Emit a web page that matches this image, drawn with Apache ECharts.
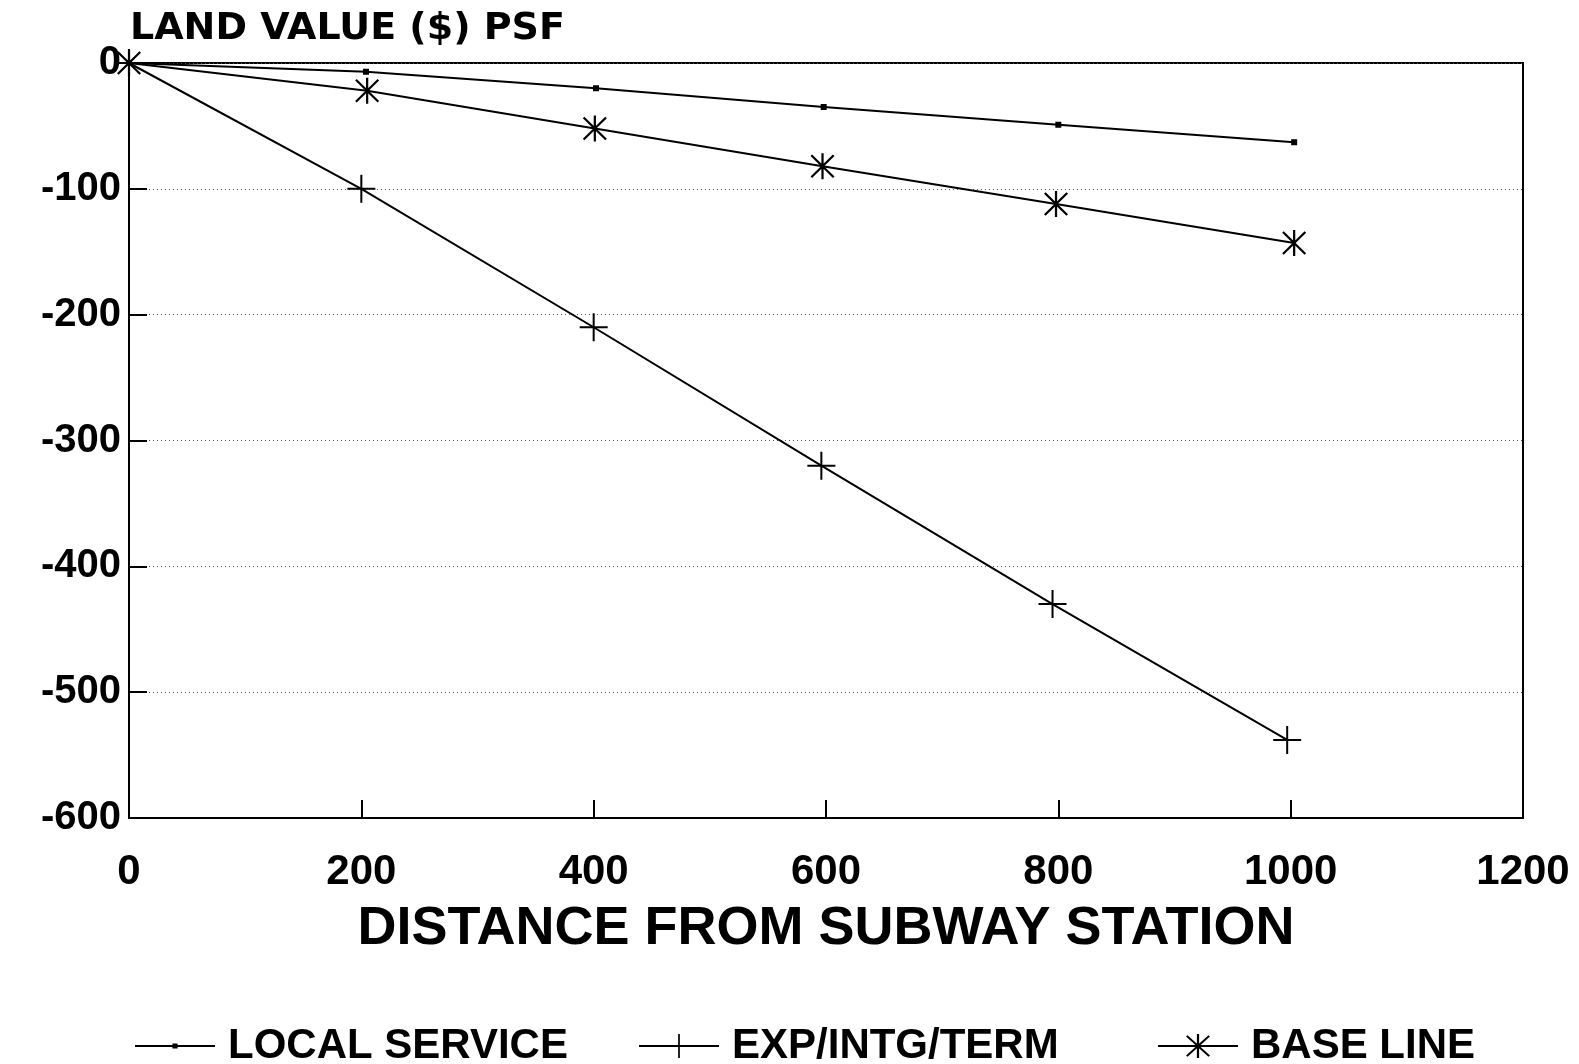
<!DOCTYPE html>
<html>
<head>
<meta charset="utf-8">
<script src="https://cdn.jsdelivr.net/npm/echarts@6/dist/echarts.min.js"></script>
<style>
html,body{margin:0;padding:0;background:#fff;}
#chart{width:1579px;height:1064px;}
</style>
</head>
<body>
<div id="chart"></div>
<script>
// ---- data ----
const seriesNames = ['LOCAL SERVICE', 'EXP/INTG/TERM', 'BASE LINE'];
const distLocal = [0, 204, 402, 598, 800, 1003];
const valLocal  = [0, -7, -20, -35, -49, -63];
const distExp   = [0, 200, 400, 596, 795, 997];
const valExp    = [0, -100, -210, -320, -430, -538];
const distBase  = [0, 205, 401, 597, 798, 1003];
const valBase   = [0, -22, -52, -82, -112, -143];
const yTicks = [0, -100, -200, -300, -400, -500, -600];
const xTicks = [0, 200, 400, 600, 800, 1000, 1200];
const yTitle = 'LAND VALUE ($) PSF';
const xTitle = 'DISTANCE FROM SUBWAY STATION';

const pair = (xs, ys) => xs.map((x, i) => [x, ys[i]]);

// marker shapes (filled outlines, same winding)
const SYM_DOT = 'path://M-14,-14 L-14,-14 Z M14,14 L14,14 Z M-3,-3 L3,-3 L3,3 L-3,3 Z';
const SYM_PLUS = 'path://M-1,-14 L1,-14 L1,14 L-1,14 Z M-14,-1 L14,-1 L14,1 L-14,1 Z';
const SYM_STAR = 'path://M-1.1,-13 L1.1,-13 L1.1,13 L-1.1,13 Z ' +
  'M-10.22,-11.78 L11.78,10.22 L10.22,11.78 L-11.78,-10.22 Z ' +
  'M10.22,-11.78 L11.78,-10.22 L-10.22,11.78 L-11.78,10.22 Z';

const FONT = '"Liberation Sans", Arial, sans-serif';
const chart = echarts.init(document.getElementById('chart'), null, {renderer: 'canvas'});

const lineCommon = {
  type: 'line',
  animation: false,
  lineStyle: {color: '#000', width: 2},
  itemStyle: {color: '#000', borderWidth: 0},
  emphasis: {disabled: true}
};

const legendCommon = {
  itemWidth: 80,
  itemHeight: 30,
  top: 1020,
  textStyle: {fontFamily: FONT, fontWeight: 'bold', fontSize: 42, color: '#000', lineHeight: 42, padding: [0, 0, 0, 8]},
  inactiveColor: '#000',
  selectedMode: false
};

chart.setOption({
  backgroundColor: '#fff',
  animation: false,
  grid: {
    left: 129, right: 56, top: 63, bottom: 246,
    show: true, borderColor: '#000', borderWidth: 2, backgroundColor: 'transparent'
  },
  legend: [
    Object.assign({}, legendCommon, {left: 129, data: [seriesNames[0]]}),
    Object.assign({}, legendCommon, {left: 633, data: [seriesNames[1]]}),
    Object.assign({}, legendCommon, {left: 1152, data: [seriesNames[2]]})
  ],
  xAxis: {
    type: 'value',
    min: xTicks[0], max: xTicks[xTicks.length - 1], interval: 200,
    name: xTitle,
    nameLocation: 'middle',
    nameGap: 84,
    nameTextStyle: {fontFamily: FONT, fontWeight: 'bold', fontSize: 54, color: '#000'},
    axisLine: {show: true, onZero: false, lineStyle: {color: '#000', width: 2}},
    axisTick: {show: true, inside: true, length: 18, lineStyle: {color: '#000', width: 2}},
    axisLabel: {fontFamily: FONT, fontWeight: 'bold', fontSize: 42, color: '#000', margin: 33,
      formatter: v => String(v)},
    splitLine: {show: false}
  },
  yAxis: {
    type: 'value',
    min: yTicks[yTicks.length - 1], max: yTicks[0], interval: 100,
    axisLine: {show: true, onZero: false, lineStyle: {color: '#000', width: 2}},
    axisTick: {show: true, inside: true, length: 18, lineStyle: {color: '#000', width: 2}},
    axisLabel: {fontFamily: FONT, fontWeight: 'bold', fontSize: 40, color: '#000', margin: 8,
      formatter: v => String(v)},
    splitLine: {show: true, lineStyle: {color: '#555', width: 1, type: [1, 3]}}
  },
  graphic: [{
    type: 'text',
    left: 130, top: 10,
    style: {text: yTitle, fill: '#000', font: 'bold 38px "DejaVu Sans", sans-serif'}
  }],
  series: [
    Object.assign({}, lineCommon, {
      name: seriesNames[0], data: pair(distLocal, valLocal),
      symbol: SYM_DOT, symbolSize: 28, z: 3
    }),
    Object.assign({}, lineCommon, {
      name: seriesNames[1], data: pair(distExp, valExp),
      symbol: SYM_PLUS, symbolSize: 28, z: 4
    }),
    Object.assign({}, lineCommon, {
      name: seriesNames[2], data: pair(distBase, valBase),
      symbol: SYM_STAR, symbolSize: [24, 26], z: 5
    })
  ]
});
</script>
</body>
</html>
